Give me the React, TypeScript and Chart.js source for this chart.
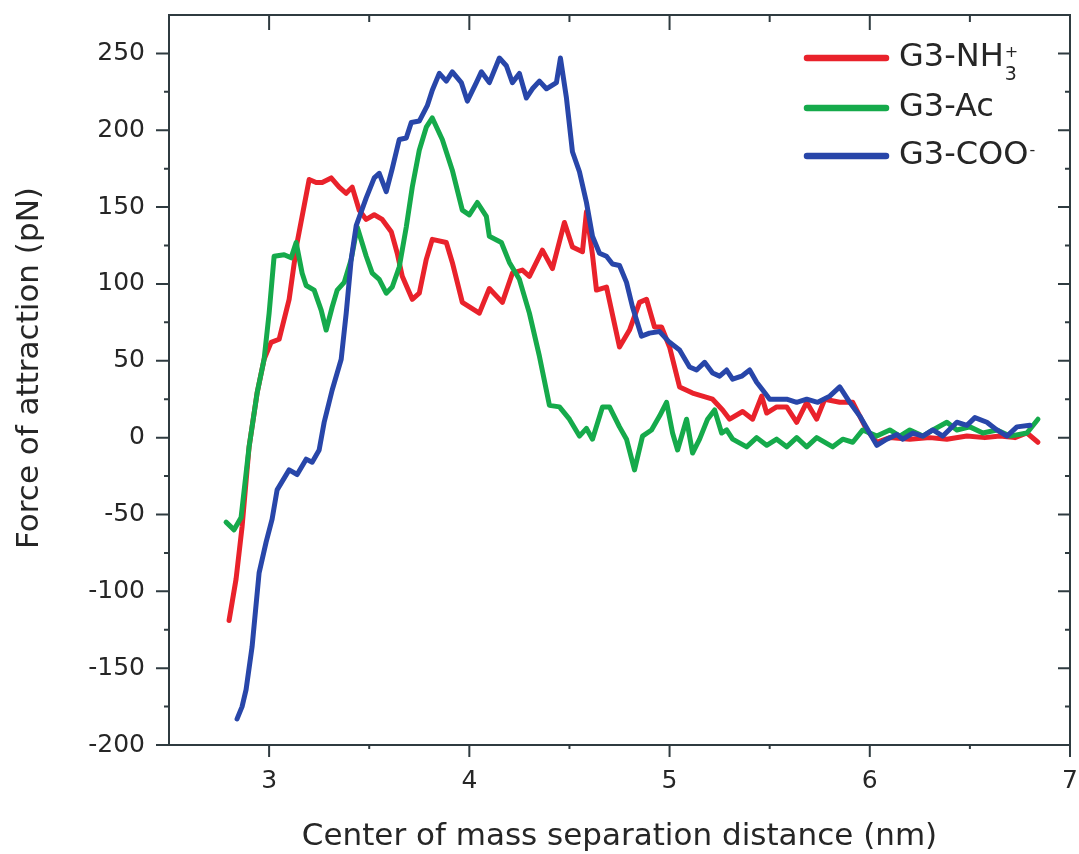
import React, { useEffect, useRef } from 'react';
import { Chart, registerables } from 'chart.js';

Chart.register(...registerables);

// ---------- data ----------
const redX = [2.800,2.835,2.865,2.900,2.940,2.975,3.010,3.050,3.100,3.140,3.200,3.235,3.265,3.310,3.350,3.385,3.415,3.450,3.485,3.525,3.565,3.610,3.640,3.665,3.715,3.750,3.785,3.815,3.885,3.915,3.965,4.050,4.100,4.165,4.215,4.265,4.300,4.365,4.415,4.475,4.515,4.565,4.585,4.615,4.635,4.685,4.750,4.800,4.850,4.885,4.925,4.960,5.000,5.050,5.115,5.215,5.265,5.300,5.365,5.415,5.460,5.485,5.535,5.585,5.635,5.685,5.735,5.775,5.850,5.915,5.985,6.035,6.100,6.200,6.300,6.385,6.485,6.575,6.650,6.725,6.785,6.840];
const redY = [-119,-92,-58,-6,29,51,62,64,90,127,168,166,166,169,163,159,163,148,142,145,142,134,120,105,90,94,116,129,127,114,88,81,97,88,107,109,105,122,110,140,124,121,147,119,96,98,59,70,88,90,72,72,59,33,29,25,18,12,17,12,27,16,20,20,10,23,12,25,23,23,5,-3,0,-1,0,-1,1,0,1,0,3,-3];

const greenX = [2.785,2.825,2.860,2.900,2.940,2.975,3.000,3.025,3.075,3.110,3.135,3.165,3.185,3.225,3.260,3.285,3.315,3.340,3.375,3.410,3.440,3.485,3.515,3.550,3.585,3.615,3.650,3.685,3.715,3.750,3.785,3.815,3.865,3.915,3.965,4.000,4.040,4.085,4.100,4.160,4.200,4.250,4.300,4.350,4.400,4.450,4.500,4.550,4.585,4.615,4.665,4.700,4.750,4.785,4.825,4.865,4.910,4.950,4.985,5.015,5.040,5.085,5.115,5.150,5.190,5.225,5.260,5.285,5.315,5.385,5.435,5.485,5.535,5.585,5.635,5.685,5.735,5.815,5.865,5.915,5.965,6.035,6.100,6.150,6.200,6.265,6.315,6.385,6.435,6.500,6.565,6.635,6.700,6.785,6.840];
const greenY = [-55,-60,-52,-6,29,51,81,118,119,117,127,107,99,96,83,70,85,96,101,116,137,118,107,103,94,98,111,137,163,187,202,208,194,174,148,145,153,144,131,127,114,103,81,53,21,20,12,1,6,-1,20,20,7,-1,-21,1,5,14,23,3,-8,12,-10,-1,12,18,3,5,-1,-6,0,-5,-1,-6,0,-6,0,-6,-1,-3,5,1,5,1,5,1,5,10,5,7,3,5,1,3,12];

const blueX = [2.840,2.865,2.885,2.915,2.950,2.985,3.015,3.040,3.100,3.140,3.185,3.215,3.250,3.275,3.315,3.360,3.385,3.410,3.435,3.485,3.525,3.550,3.585,3.615,3.650,3.685,3.710,3.750,3.790,3.815,3.850,3.885,3.915,3.960,3.990,4.035,4.060,4.100,4.150,4.185,4.215,4.250,4.285,4.315,4.350,4.385,4.435,4.455,4.485,4.515,4.550,4.585,4.615,4.650,4.685,4.715,4.750,4.785,4.815,4.860,4.900,4.950,5.000,5.050,5.100,5.135,5.175,5.215,5.250,5.285,5.315,5.360,5.400,5.435,5.465,5.500,5.550,5.585,5.635,5.685,5.740,5.800,5.850,5.900,5.950,6.035,6.085,6.135,6.165,6.215,6.265,6.315,6.365,6.435,6.485,6.525,6.585,6.635,6.685,6.735,6.800];
const blueY = [-183,-175,-164,-136,-88,-68,-53,-34,-21,-24,-14,-16,-8,10,31,51,81,116,138,156,169,172,160,175,194,195,205,206,216,226,237,232,238,231,219,231,238,231,247,242,231,237,221,227,232,227,231,247,221,186,173,153,131,120,118,113,112,101,85,66,68,69,62,57,46,44,49,42,40,44,38,40,44,36,31,25,25,25,23,25,23,27,33,23,14,-5,-1,2,-1,3,1,5,1,10,8,13,10,5,1,7,8];

const seriesNames = ['G3-NH3+', 'G3-Ac', 'G3-COO-'];
const legendBase = ['G3-NH', 'G3-Ac', 'G3-COO'];
const legendSup = ['+', '', '-'];
const legendSub = ['3', '', ''];

const xTickValues = [3, 4, 5, 6, 7];
const xMinorValues = [3.5, 4.5, 5.5, 6.5];
const yTickValues = [-200, -150, -100, -50, 0, 50, 100, 150, 200, 250];
const yMinorValues = [-175, -125, -75, -25, 25, 75, 125, 175, 225];

const xTitle = 'Center of mass separation distance (nm)';
const yTitle = 'Force of attraction (pN)';

// ---------- styles ----------
const RED = '#e9222b';
const GREEN = '#15aa4b';
const BLUE = '#2846a9';
const AXIS = '#2f3b40';
const TEXT = '#262626';
const FONT = '"DejaVu Sans", "Liberation Sans", Arial, sans-serif';

const toPoints = (xs: number[], ys: number[]) => xs.map((x, i) => ({ x, y: ys[i] }));

const decorPlugin = {
  id: 'decor',
  afterDraw(chart: any) {
    const ctx = chart.ctx as CanvasRenderingContext2D;
    const { left, right, top, bottom } = chart.chartArea;
    const xs = chart.scales.x;
    const ys = chart.scales.y;
    ctx.save();
    // frame
    ctx.strokeStyle = AXIS;
    ctx.lineWidth = 2;
    ctx.strokeRect(left, top, right - left, bottom - top);
    ctx.beginPath();
    xTickValues.forEach((v) => {
      const p = xs.getPixelForValue(v);
      ctx.moveTo(p, bottom); ctx.lineTo(p, bottom + 12);
      ctx.moveTo(p, top); ctx.lineTo(p, top + 15);
    });
    xMinorValues.forEach((v) => {
      const p = xs.getPixelForValue(v);
      ctx.moveTo(p, bottom); ctx.lineTo(p, bottom + 4);
      ctx.moveTo(p, top); ctx.lineTo(p, top + 7);
    });
    yTickValues.forEach((v) => {
      const p = ys.getPixelForValue(v);
      ctx.moveTo(left - 13, p); ctx.lineTo(left, p);
      ctx.moveTo(right - 12, p); ctx.lineTo(right, p);
    });
    yMinorValues.forEach((v) => {
      const p = ys.getPixelForValue(v);
      ctx.moveTo(left - 5, p); ctx.lineTo(left, p);
      ctx.moveTo(right - 5, p); ctx.lineTo(right, p);
    });
    ctx.stroke();

    // y title
    ctx.fillStyle = TEXT;
    ctx.font = `31px ${FONT}`;
    ctx.textAlign = 'center';
    ctx.textBaseline = 'middle';
    ctx.save();
    ctx.translate(30, 368);
    ctx.rotate(-Math.PI / 2);
    ctx.fillText(yTitle, 0, 0);
    ctx.restore();

    // legend
    const colors = [RED, GREEN, BLUE];
    const rowsY = [58, 108, 156];
    legendBase.forEach((base, i) => {
      const y = rowsY[i];
      ctx.strokeStyle = colors[i];
      ctx.lineWidth = 6.5;
      ctx.lineCap = 'round';
      ctx.beginPath();
      ctx.moveTo(807, y); ctx.lineTo(886, y);
      ctx.stroke();
      ctx.fillStyle = TEXT;
      ctx.textAlign = 'left';
      ctx.textBaseline = 'middle';
      ctx.font = `32px ${FONT}`;
      ctx.fillText(base, 899, y);
      const w = ctx.measureText(base).width;
      if (legendSup[i]) {
        ctx.font = `16px ${FONT}`;
        ctx.fillText(legendSup[i], 899 + w + 1, y - 5);
      }
      if (legendSub[i]) {
        ctx.font = `19px ${FONT}`;
        ctx.fillText(legendSub[i], 899 + w + 1, y + 17);
      }
    });
    ctx.restore();
  },
};

const hiddenTicks = {
  display: true,
  drawOnChartArea: false,
  drawTicks: true,
  tickLength: 24,
  color: 'rgba(0,0,0,0)',
  tickColor: 'rgba(0,0,0,0)',
};

export default function App() {
  const ref = useRef<HTMLCanvasElement | null>(null);

  useEffect(() => {
    if (!ref.current) return;
    const line = (label: string, xs: number[], ys: number[], color: string, order: number) => ({
      label,
      data: toPoints(xs, ys),
      borderColor: color,
      backgroundColor: color,
      borderWidth: 5,
      pointRadius: 0,
      tension: 0,
      fill: false,
      borderJoinStyle: 'round' as const,
      borderCapStyle: 'round' as const,
      order,
    });
    const chart = new Chart(ref.current, {
      type: 'line',
      data: {
        datasets: [
          line(seriesNames[0], redX, redY, RED, 3),
          line(seriesNames[1], greenX, greenY, GREEN, 2),
          line(seriesNames[2], blueX, blueY, BLUE, 1),
        ],
      },
      options: {
        responsive: false,
        animation: false,
        devicePixelRatio: 1,
        layout: { padding: { top: 15, right: 9, left: 0, bottom: 0 } },
        plugins: {
          legend: { display: false },
          tooltip: { enabled: false },
        },
        scales: {
          x: {
            type: 'linear',
            min: 2.5,
            max: 7,
            afterBuildTicks: (s: any) => { s.ticks = xTickValues.map((v) => ({ value: v })); },
            afterFit: (s: any) => { s.height = 109; },
            grid: hiddenTicks,
            border: { display: false },
            ticks: {
              autoSkip: false,
              maxRotation: 0,
              padding: 0,
              color: TEXT,
              font: { family: FONT, size: 25, lineHeight: 1 },
            },
            title: {
              display: true,
              text: xTitle,
              color: TEXT,
              font: { family: FONT, size: 31, lineHeight: 1 },
              padding: { top: 0, bottom: 2 },
            },
          },
          y: {
            type: 'linear',
            min: -200,
            max: 275,
            afterBuildTicks: (s: any) => { s.ticks = yTickValues.map((v) => ({ value: v })); },
            afterFit: (s: any) => { s.width = 169; },
            grid: hiddenTicks,
            border: { display: false },
            ticks: {
              autoSkip: false,
              padding: 0,
              color: TEXT,
              font: { family: FONT, size: 25, lineHeight: 1 },
            },
          },
        },
      },
      plugins: [decorPlugin],
    });
    return () => chart.destroy();
  }, []);

  return (
    <div style={{ position: 'absolute', left: 0, top: 0, width: 1079, height: 854, background: '#fff' }}>
      <canvas ref={ref} width={1079} height={854} style={{ display: 'block' }} />
    </div>
  );
}
